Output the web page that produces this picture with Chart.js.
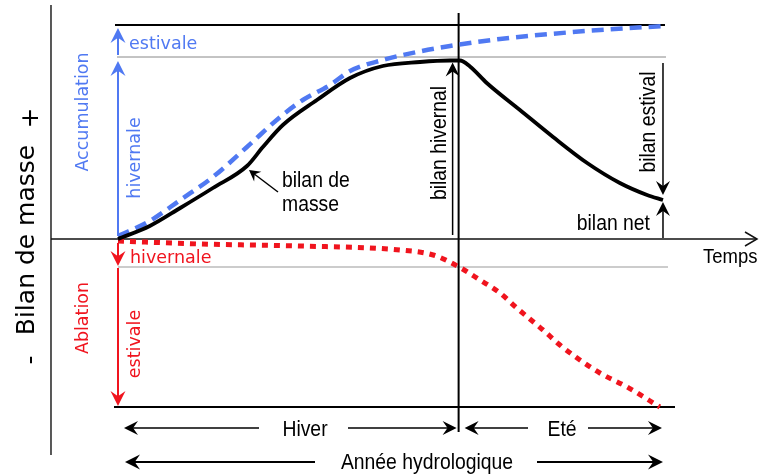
<!DOCTYPE html>
<html>
<head>
<meta charset="utf-8">
<script src="https://cdn.jsdelivr.net/npm/chart.js@4"></script>
<style>
  html, body { margin: 0; padding: 0; background: #fff; }
  canvas { display: block; }
</style>
</head>
<body>
<canvas id="chart" width="761" height="474"></canvas>
<script>
// x = months since start of the hydrological year, y = mass (arbitrary units)
var balanceMonths = [0, 0.70, 1.37, 2.09, 2.84, 3.19, 3.63, 4.38, 5.11, 5.83, 6.65, 7.31, 7.53, 7.75, 8.12, 8.85, 9.58, 10.33, 11.05, 11.65, 12];
var balanceValues = [0, 1.3, 3.1, 5.1, 7.3, 9.2, 11.4, 13.9, 16.1, 17.3, 17.7, 17.85, 17.85, 17.25, 15.6, 12.9, 10.2, 7.6, 5.6, 4.4, 3.9];

var accumMonths = [0, 0.70, 1.37, 2.09, 2.84, 3.57, 4.07, 4.67, 5.11, 5.83, 6.58, 7.31, 8.41, 9.51, 10.61, 12];
var accumValues = [0.3, 1.8, 3.9, 6.2, 9.2, 12.2, 13.9, 15.4, 16.8, 17.9, 18.7, 19.3, 20.0, 20.5, 20.9, 21.3];

var ablationMonths = [0, 1.81, 4.0, 6.21, 6.94, 7.51, 7.97, 8.41, 8.78, 9.36, 9.73, 10.11, 10.61, 11.21, 11.93];
var ablationValues = [-0.2, -0.5, -0.7, -1.1, -1.6, -2.8, -4.1, -5.4, -6.9, -9.1, -10.6, -11.9, -13.4, -14.8, -16.8];

// season boundaries (months) and reference levels
var seasons = [0, 7.5, 12];            // start of year, end of winter, end of year
var accumLevels = [18.2, 21.4];        // winter accumulation, total accumulation
var ablationLevels = [-2.8, -16.8];    // winter ablation, total ablation
var winterBalance = 17.85;
var netBalance = 3.9;

var BLUE = '#5079f2';
var RED = '#f0141e';
var SANS = '"Liberation Sans", Arial, sans-serif';
var VERA = '"DejaVu Sans", sans-serif';
var NARROW = 0.88; // the black labels use a slightly condensed face

function toPoints(xs, ys) {
  return xs.map(function(x, i) { return {x: x, y: ys[i]}; });
}

function line(ctx, x1, y1, x2, y2, color, w) {
  ctx.save();
  ctx.strokeStyle = color;
  ctx.lineWidth = w;
  ctx.beginPath();
  ctx.moveTo(x1, y1);
  ctx.lineTo(x2, y2);
  ctx.stroke();
  ctx.restore();
}

// barbed, filled arrow head at (x2, y2)
function arrow(ctx, x1, y1, x2, y2, color, w, len, half) {
  len = len || 15;
  half = half || 7.5;
  var a = Math.atan2(y2 - y1, x2 - x1);
  ctx.save();
  ctx.strokeStyle = color;
  ctx.fillStyle = color;
  ctx.lineWidth = w;
  ctx.beginPath();
  ctx.moveTo(x1, y1);
  ctx.lineTo(x2 - Math.cos(a) * len * 0.6, y2 - Math.sin(a) * len * 0.6);
  ctx.stroke();
  ctx.translate(x2, y2);
  ctx.rotate(a);
  ctx.beginPath();
  ctx.moveTo(0, 0);
  ctx.lineTo(-len, -half);
  ctx.lineTo(-len * 0.65, 0);
  ctx.lineTo(-len, half);
  ctx.closePath();
  ctx.fill();
  ctx.restore();
}

function text(ctx, str, x, y, font, color, align, sx) {
  ctx.save();
  ctx.translate(x, y);
  ctx.scale(sx || 1, 1);
  ctx.font = font;
  ctx.fillStyle = color;
  ctx.textAlign = align || 'left';
  ctx.textBaseline = 'alphabetic';
  ctx.fillText(str, 0, 0);
  ctx.restore();
}

// vertical text, reading bottom to top, centred on (x, y)
function vtext(ctx, str, x, y, font, color, sx) {
  ctx.save();
  ctx.translate(x, y);
  ctx.rotate(-Math.PI / 2);
  ctx.scale(sx || 1, 1);
  ctx.font = font;
  ctx.fillStyle = color;
  ctx.textAlign = 'center';
  ctx.textBaseline = 'middle';
  ctx.fillText(str, 0, 0);
  ctx.restore();
}

var diagram = {
  id: 'diagram',
  beforeDatasetsDraw: function(chart) {
    var ctx = chart.ctx;
    var X = function(v) { return chart.scales.x.getPixelForValue(v); };
    var Y = function(v) { return chart.scales.y.getPixelForValue(v); };
    var x0 = X(seasons[0]), xw = X(seasons[1]), x1 = X(seasons[2]);
    var axisX = x0 - 67, y0 = Y(0);

    // vertical axis
    line(ctx, axisX, 5, axisX, 455, '#222', 1.5);
    // reference levels
    line(ctx, x0 - 3, Y(accumLevels[1]), x1 + 2, Y(accumLevels[1]), '#000', 2);
    line(ctx, x0 - 1, Y(accumLevels[0]), x1 + 3, Y(accumLevels[0]), '#888', 1);
    line(ctx, x0, Y(ablationLevels[0]), x1 + 5, Y(ablationLevels[0]), '#999', 1);
    line(ctx, x0 - 4, Y(ablationLevels[1]), x1 + 12, Y(ablationLevels[1]), '#000', 2);
    // end of winter
    line(ctx, xw, Y(accumLevels[1]) - 12, xw, Y(ablationLevels[1]) + 25, '#000', 2);
    // time axis with open arrow head
    line(ctx, axisX, y0, 756, y0, '#111', 1.5);
    ctx.save();
    ctx.strokeStyle = '#111';
    ctx.lineWidth = 1.5;
    ctx.beginPath();
    ctx.moveTo(745, y0 - 7);
    ctx.lineTo(757, y0);
    ctx.lineTo(745, y0 + 7);
    ctx.stroke();
    ctx.restore();
  },
  afterDatasetsDraw: function(chart) {
    var ctx = chart.ctx;
    var X = function(v) { return chart.scales.x.getPixelForValue(v); };
    var Y = function(v) { return chart.scales.y.getPixelForValue(v); };
    var x0 = X(seasons[0]), xw = X(seasons[1]), x1 = X(seasons[2]);
    var y0 = Y(0);
    var yW = Y(accumLevels[0]), yA = Y(accumLevels[1]);
    var yAw = Y(ablationLevels[0]), yAb = Y(ablationLevels[1]);
    var yPeak = Y(winterBalance), yNet = Y(netBalance);
    var BF = '22px ' + SANS;

    // accumulation arrows
    arrow(ctx, x0, y0 - 3, x0, yW + 4, BLUE, 2);
    arrow(ctx, x0, yW - 2, x0, yA + 3, BLUE, 2);
    text(ctx, 'estivale', x0 + 11, yA + 24, '17.5px ' + VERA, BLUE);
    vtext(ctx, 'hivernale', x0 + 17, 158, '17.5px ' + VERA, BLUE);
    vtext(ctx, 'Accumulation', x0 - 35, 112, '17.5px ' + VERA, BLUE);

    // ablation arrows
    arrow(ctx, x0, y0 + 4, x0, yAw - 1, RED, 2);
    arrow(ctx, x0, yAw + 1, x0, yAb - 1, RED, 2);
    text(ctx, 'hivernale', x0 + 12, yAw - 4, '17.5px ' + VERA, RED);
    vtext(ctx, 'Ablation', x0 - 35, 318, '17.5px ' + VERA, RED);
    vtext(ctx, 'estivale', x0 + 17, 344, '17.5px ' + VERA, RED);

    // balances
    arrow(ctx, xw - 6, y0 - 4, xw - 6, yPeak + 2, '#000', 1.5, 14, 7);
    vtext(ctx, 'bilan hivernal', xw - 19, 143, BF, '#000', NARROW);
    arrow(ctx, x1, yW + 6, x1, yNet - 5, '#000', 1.5, 14, 7);
    vtext(ctx, 'bilan estival', x1 - 14, 122, BF, '#000', NARROW);
    arrow(ctx, x1, y0 - 1, x1, yNet + 2, '#000', 1.5, 14, 7);
    text(ctx, 'bilan net', x1 - 13, 230, BF, '#000', 'right', NARROW);

    // mass balance curve label
    arrow(ctx, 278, 192, 249, 170, '#000', 1.5, 11, 6);
    text(ctx, 'bilan de', 282, 187, BF, '#000', 'left', NARROW);
    text(ctx, 'masse', 282, 211, BF, '#000', 'left', NARROW);

    text(ctx, 'Temps', 703, 263, '21px ' + SANS, '#000', 'left', NARROW);

    // periods
    var yR1 = yAb + 21, yR2 = yAb + 55;
    arrow(ctx, 259, yR1, x0 + 6, yR1, '#000', 1.5, 14, 7);
    arrow(ctx, 348, yR1, xw - 2, yR1, '#000', 1.5, 14, 7);
    text(ctx, 'Hiver', 305, yR1 + 8, BF, '#000', 'center', NARROW);
    arrow(ctx, 528, yR1, xw + 6, yR1, '#000', 1.5, 14, 7);
    arrow(ctx, 588, yR1, x1 - 1, yR1, '#000', 1.5, 14, 7);
    text(ctx, 'Eté', 562, yR1 + 8, BF, '#000', 'center', NARROW);
    arrow(ctx, 315, yR2, x0 + 7, yR2, '#000', 2, 15, 7.5);
    arrow(ctx, 537, yR2, x1, yR2, '#000', 2, 15, 7.5);
    text(ctx, 'Année hydrologique', 427, yR2 + 7, BF, '#000', 'center', NARROW);

    // y axis title
    vtext(ctx, 'Bilan de masse', 27, 240, '25px ' + VERA, '#000');
    vtext(ctx, '+', 31, 118, '25px ' + VERA, '#000');
    vtext(ctx, '-', 31, 360, '25px ' + VERA, '#000');
  }
};

new Chart(document.getElementById('chart'), {
  type: 'line',
  data: {
    datasets: [
      {
        data: toPoints(balanceMonths, balanceValues),
        borderColor: '#000',
        borderWidth: 3.8,
        cubicInterpolationMode: 'monotone',
        pointRadius: 0,
        order: 1
      },
      {
        data: toPoints(accumMonths, accumValues),
        borderColor: BLUE,
        borderWidth: 4.5,
        borderDash: [12, 7],
        cubicInterpolationMode: 'monotone',
        pointRadius: 0,
        order: 2
      },
      {
        data: toPoints(ablationMonths, ablationValues),
        borderColor: RED,
        borderWidth: 5,
        borderDash: [6, 6],
        cubicInterpolationMode: 'monotone',
        pointRadius: 0,
        order: 3
      }
    ]
  },
  options: {
    responsive: false,
    animation: false,
    devicePixelRatio: 1,
    layout: { padding: 0 },
    plugins: { legend: { display: false }, tooltip: { enabled: false } },
    scales: {
      x: { type: 'linear', min: -2.598, max: 14.158, display: false },
      y: { type: 'linear', min: -23.5, max: 23.9, display: false }
    }
  },
  plugins: [diagram]
});
</script>
</body>
</html>
